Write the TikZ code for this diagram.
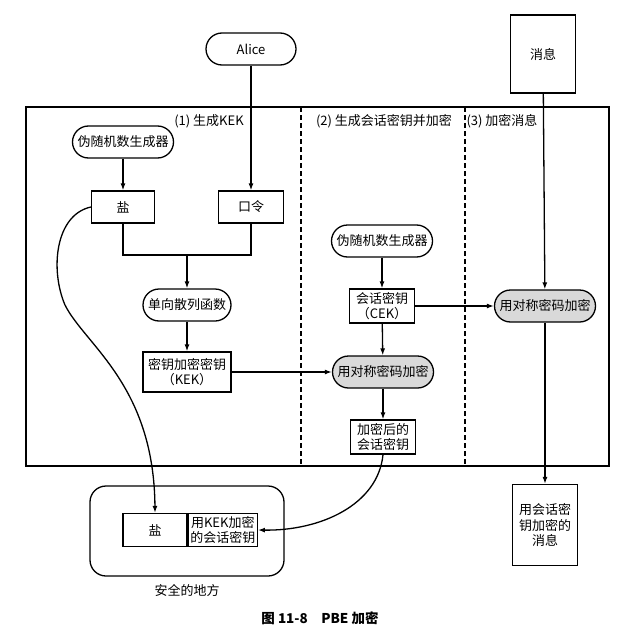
\documentclass[tikz,border=0pt]{standalone}
\usepackage{fontspec}
\setmainfont{Noto Sans CJK SC}
\usetikzlibrary{arrows.meta}
\begin{document}
\begin{tikzpicture}[x=1pt,y=-1pt,line width=1.3pt,
  font=\fontsize{13}{15.5}\selectfont,
  >={Latex[length=7pt,width=5pt]},
  pill/.style={draw,rounded corners=16pt,minimum height=32pt,inner xsep=5pt},
  encpill/.style={pill,fill=gray!30},
  keybox/.style={draw,align=center,inner sep=3pt},
  sep/.style={dash pattern=on 5pt off 3pt}]
\useasboundingbox (0,0) rectangle (640,642);

% frame and columns
\draw (26,107) rectangle (609,466);
\draw[sep] (301,107) -- (301,466);
\draw[sep] (465,107) -- (465,466);
\node (lab1) at (209,121) {(1) 生成KEK};
\node (lab2) at (384,121) {(2) 生成会话密钥并加密};
\node (lab3) at (502,121) {(3) 加密消息};

% inputs
\node[pill,minimum width=90pt] (alice) at (251,49) {Alice};
\node[draw,minimum width=65pt,minimum height=78pt] (msg) at (543,54) {消息};

% (1)
\node[pill] (prng1) at (123,142) {伪随机数生成器};
\node[keybox,minimum width=63pt,minimum height=32pt] (salt) at (123,207) {盐};
\node[keybox,minimum width=65pt,minimum height=32pt] (pass) at (251,207) {口令};
\node[pill] (hash) at (187,305) {单向散列函数};
\node[keybox,minimum width=88pt,minimum height=40pt] (kek) at (187,372) {密钥加密密钥\\（KEK）};
\coordinate (merge) at (187,255);

% (2)
\node[pill] (prng2) at (382,241) {伪随机数生成器};
\node[keybox,minimum width=65pt,minimum height=34pt] (cek) at (382,306) {会话密钥\\（CEK）};
\node[encpill] (enc2) at (383,372) {用对称密码加密};
\node[keybox,minimum width=65pt,minimum height=34pt] (enccek) at (383,437) {加密后的\\会话密钥};

% (3)
\node[encpill] (enc3) at (545,306) {用对称密码加密};
\node[keybox,minimum width=65pt,minimum height=81pt] (encmsg) at (545,525) {用会话密\\钥加密的\\消息};

% safe place
\draw[rounded corners=16pt] (90,486) rectangle (284,576);
\node[keybox,minimum width=64pt,minimum height=33pt] (safesalt) at (155,530) {盐};
\node[keybox,minimum height=33pt,inner sep=2pt,anchor=west] (safekek) at (safesalt.east) {用KEK加密\\的会话密钥};
\node (safelab) at (187,590) {安全的地方};

\node[font=\fontsize{13.5}{16}\selectfont\bfseries] (caption) at (320,618) {图 11-8\quad PBE 加密};

% connectors
\draw[->] (alice) -- (pass);
\draw[->] (prng1) -- (salt);
\draw (salt.south) |- (merge) -| (pass.south);
\draw[->] (merge) -- (hash);
\draw[->] (hash) -- (kek);
\draw[->] (kek) -- (enc2);
\draw[->] (prng2) -- (cek);
\draw[->] (cek) -- (enc2);
\draw[->] (enc2) -- (enccek);
\draw[->] (cek) -- (enc3);
\draw[->] (msg) -- (enc3);
\draw[->] (enc3) -- (encmsg);
\draw[->] (salt.west) .. controls (55,215) and (50,270) .. (65,305)
  .. controls (85,345) and (154,385) .. (safesalt.north);
\draw[->] (enccek.south) .. controls (378,505) and (320,531) .. (safekek.east);

\end{tikzpicture}
\end{document}
